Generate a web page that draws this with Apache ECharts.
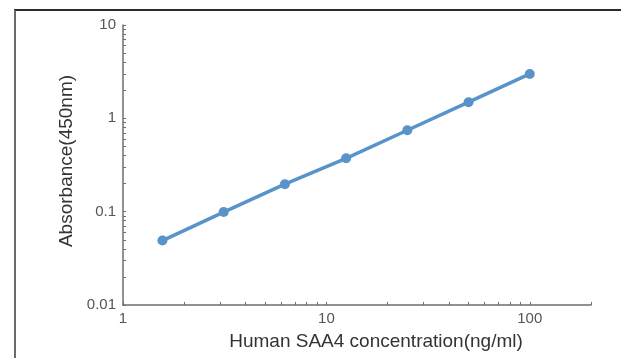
<!DOCTYPE html>
<html>
<head>
<meta charset="utf-8">
<script src="https://cdn.jsdelivr.net/npm/echarts@6/dist/echarts.min.js"></script>
<style>
html,body{margin:0;padding:0;background:#fff;}
#chart{position:absolute;left:0;top:0;width:621px;height:358px;}
#frame{position:absolute;left:14px;top:9px;right:0;bottom:0;border-top:2px solid #2a2a2a;border-left:2px solid #6a6a6a;pointer-events:none;}
</style>
</head>
<body>
<div id="chart"></div>
<div id="frame"></div>
<script>
// Data
var concentrations = [1.5625, 3.125, 6.25, 12.5, 25, 50, 100];
var absorbance = [0.049, 0.099, 0.197, 0.373, 0.745, 1.49, 2.99];
// Tick labels
var xLabelValues = [1, 10, 100];
var yLabelValues = [0.01, 0.1, 1, 10];
var xTickValues = [1,2,3,4,5,6,7,8,9,10,20,30,40,50,60,70,80,90,100,200];
var yTickValues = [0.01,0.02,0.03,0.04,0.05,0.06,0.07,0.08,0.09,0.1,0.2,0.3,0.4,0.5,0.6,0.7,0.8,0.9,1,2,3,4,5,6,7,8,9,10];

var seriesData = concentrations.map(function(c, i){ return [c, absorbance[i]]; });
var chart = echarts.init(document.getElementById('chart'), null, {renderer:'canvas'});
var fontFam = 'Liberation Sans, Arial, sans-serif';
chart.setOption({
  animation: false,
  grid: {left:123, top:25, right:30, bottom:53, containLabel:false},
  xAxis: {
    type:'log', logBase:10, min:1, max:200,
    name:'Human SAA4 concentration(ng/ml)', nameLocation:'middle', nameGap:27,
    nameTextStyle:{color:'#333', fontSize:19, fontFamily:fontFam, padding:[0,0,0,38]},
    axisLine:{show:true, lineStyle:{color:'#6e6e6e', width:1.5}},
    axisTick:{show:true, inside:true, length:3, customValues:xTickValues, lineStyle:{color:'#6e6e6e'}},
    axisLabel:{show:true, customValues:xLabelValues, color:'#555', fontSize:15, fontFamily:fontFam, margin:6,
      formatter:function(v){return String(v);}},
    splitLine:{show:false}, minorTick:{show:false}
  },
  yAxis: {
    type:'log', logBase:10, min:0.01, max:10,
    name:'Absorbance(450nm)', nameLocation:'middle', nameGap:46, nameRotate:90,
    nameTextStyle:{color:'#333', fontSize:19, fontFamily:fontFam, padding:[0,0,0,8]},
    axisLine:{show:true, lineStyle:{color:'#6e6e6e', width:1.5}},
    axisTick:{show:true, inside:true, length:3, customValues:yTickValues, lineStyle:{color:'#6e6e6e'}},
    axisLabel:{show:true, customValues:yLabelValues, color:'#555', fontSize:15, fontFamily:fontFam, margin:7,
      formatter:function(v){return String(v);}},
    splitLine:{show:false}, minorTick:{show:false}
  },
  series: [{
    type:'line', data:seriesData,
    symbol:'circle', symbolSize:10,
    lineStyle:{color:'#5894c9', width:3.5},
    itemStyle:{color:'#5894c9'}
  }]
});
</script>
</body>
</html>
